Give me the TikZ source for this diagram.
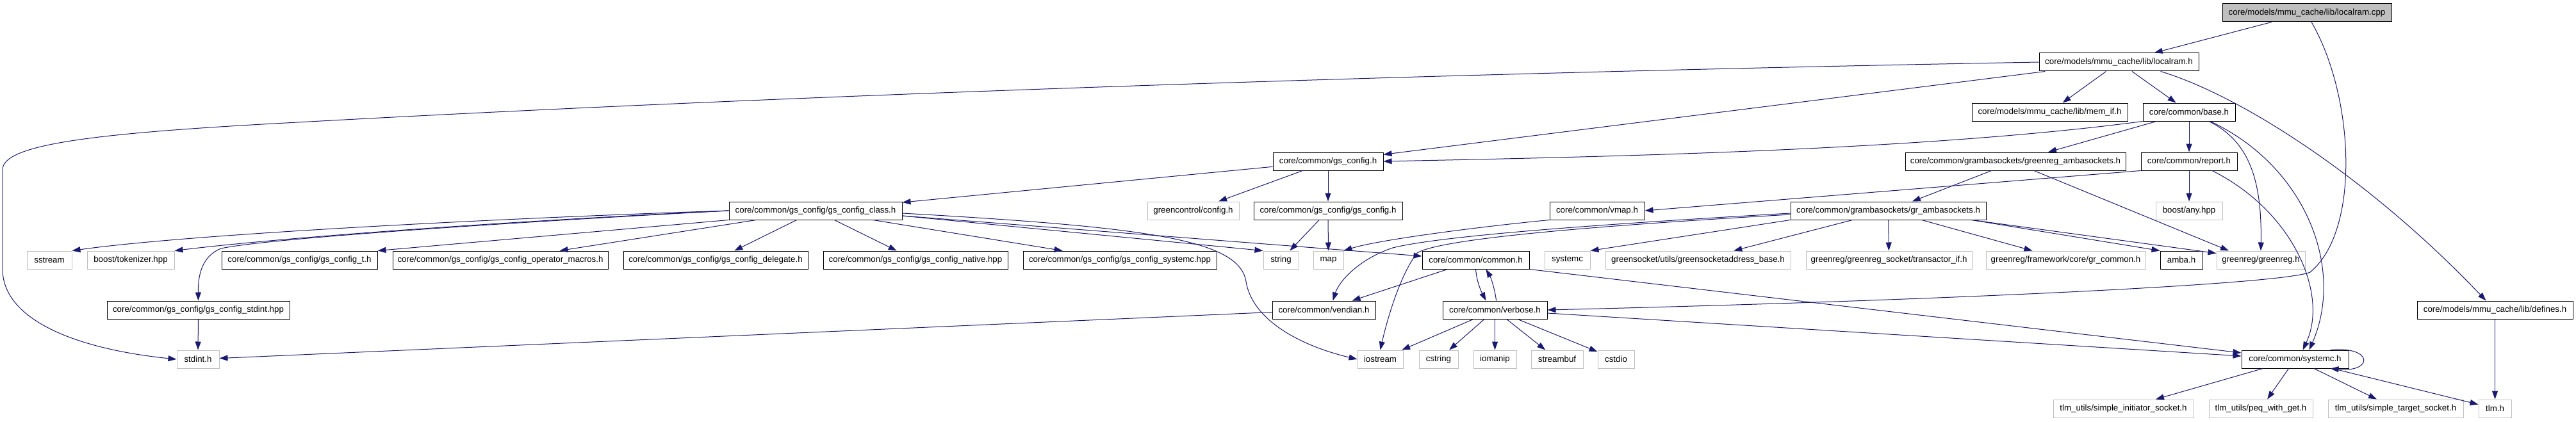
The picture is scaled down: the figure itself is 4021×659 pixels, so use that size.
\documentclass[tikz,border=0pt]{standalone}
\usepackage{fontspec}
\setmainfont{Liberation Sans}
\usetikzlibrary{arrows.meta}
\definecolor{edgeblue}{HTML}{191970}
\definecolor{extgray}{HTML}{BFBFBF}

\begin{document}
\begin{tikzpicture}[
            x=1bp, y=-1bp,
            filebox/.style={
                    draw,
                    rectangle,
                    minimum height=28bp,
                    inner xsep=1bp,
                    inner ysep=0bp,
                    line width=1bp,
                    font=\fontsize{13.3bp}{16bp}\selectfont
                },
            doc/.style={filebox, draw=black},
            ext/.style={filebox, draw=extgray},
            srcfile/.style={filebox, draw=black, fill=extgray},
            dep/.style={
                    -{Triangle[length=13bp,width=9bp]},
                    draw=edgeblue,
                    line width=1bp
                }
        ]

        \useasboundingbox (0,0) rectangle (4021,659);

        % files
        \node[srcfile, minimum width=264bp] (cpp) at (3601,20) {core/models/mmu\_cache/lib/localram.cpp};

        \node[doc, minimum width=249bp] (lram) at (3307.5,97) {core/models/mmu\_cache/lib/localram.h};

        \node[doc, minimum width=243bp] (memif) at (3199.5,175) {core/models/mmu\_cache/lib/mem\_if.h};
        \node[doc, minimum width=144bp] (base) at (3417,175) {core/common/base.h};

        \node[doc, minimum width=172bp] (gsconfig) at (2073,252) {core/common/gs\_config.h};
        \node[doc, minimum width=344bp] (grnregamba) at (3146,252) {core/common/grambasockets/greenreg\_ambasockets.h};
        \node[doc, minimum width=150bp] (report) at (3417,252) {core/common/report.h};

        \node[doc, minimum width=270bp] (gsclass) at (1273,329) {core/common/gs\_config/gs\_config\_class.h};
        \node[ext, minimum width=143bp] (gcconfig) at (1862.5,329) {greencontrol/config.h};
        \node[doc, minimum width=232bp] (gsgs) at (2073,329) {core/common/gs\_config/gs\_config.h};
        \node[doc, minimum width=148bp] (vmap) at (2493,329) {core/common/vmap.h};
        \node[doc, minimum width=305bp] (gramba) at (2947.5,329) {core/common/grambasockets/gr\_ambasockets.h};
        \node[ext, minimum width=104bp] (anyhpp) at (3417,329) {boost/any.hpp};

        \node[ext, minimum width=70bp] (sstream) at (77,406) {sstream};
        \node[ext, minimum width=136bp] (tokenizer) at (204,406) {boost/tokenizer.hpp};
        \node[doc, minimum width=243bp] (gst) at (467.5,406) {core/common/gs\_config/gs\_config\_t.h};
        \node[doc, minimum width=336bp] (opmac) at (781,406) {core/common/gs\_config/gs\_config\_operator\_macros.h};
        \node[doc, minimum width=288bp] (deleg) at (1117,406) {core/common/gs\_config/gs\_config\_delegate.h};
        \node[doc, minimum width=288bp] (native) at (1429,406) {core/common/gs\_config/gs\_config\_native.hpp};
        \node[doc, minimum width=302bp] (schpp) at (1748,406) {core/common/gs\_config/gs\_config\_systemc.hpp};
        \node[ext, minimum width=55bp] (string) at (1999.5,406) {string};
        \node[ext, minimum width=47bp] (map) at (2073.5,406) {map};
        \node[doc, minimum width=167bp] (common) at (2303.5,406) {core/common/common.h};
        \node[ext, minimum width=71bp] (systemc) at (2446.5,406) {systemc};
        \node[ext, minimum width=289bp] (gsaddr) at (2650.5,406) {greensocket/utils/greensocketaddress\_base.h};
        \node[ext, minimum width=259bp] (transif) at (2948.5,406) {greenreg/greenreg\_socket/transactor\_if.h};
        \node[ext, minimum width=249bp] (grcommon) at (3224.5,406) {greenreg/framework/core/gr\_common.h};
        \node[doc, minimum width=66bp] (amba) at (3405,406) {amba.h};
        \node[ext, minimum width=138bp] (greenreg) at (3529,406) {greenreg/greenreg.h};

        \node[doc, minimum width=285bp] (stdinthpp) at (309.5,484) {core/common/gs\_config/gs\_config\_stdint.hpp};
        \node[doc, minimum width=161bp] (vendian) at (2066.5,484) {core/common/vendian.h};
        \node[doc, minimum width=163bp] (verbose) at (2333.5,484) {core/common/verbose.h};
        \node[doc, minimum width=243bp] (defines) at (3894.5,484) {core/models/mmu\_cache/lib/defines.h};

        \node[ext, minimum width=66bp] (stdint) at (309,561) {stdint.h};
        \node[ext, minimum width=71bp] (iostream) at (2154.5,561) {iostream};
        \node[ext, minimum width=61bp] (cstring) at (2245.5,561) {cstring};
        \node[ext, minimum width=67bp] (iomanip) at (2333.5,561) {iomanip};
        \node[ext, minimum width=81bp] (streambuf) at (2430.5,561) {streambuf};
        \node[ext, minimum width=57bp] (cstdio) at (2522.5,561) {cstdio};
        \node[doc, minimum width=167bp] (systemch) at (3582.5,561) {core/common/systemc.h};

        \node[ext, minimum width=219bp] (initsock) at (3314.5,638) {tlm\_utils/simple\_initiator\_socket.h};
        \node[ext, minimum width=162bp] (peq) at (3529,638) {tlm\_utils/peq\_with\_get.h};
        \node[ext, minimum width=211bp] (tgtsock) at (3739.5,638) {tlm\_utils/simple\_target\_socket.h};
        \node[ext, minimum width=51bp] (tlm) at (3894.5,638) {tlm.h};

        % includes
        \draw[dep] (cpp) -- (lram);
        \draw[dep] ([xshift=7bp]cpp.south) .. controls (3675,150) and (3685,360) .. (3606,425)
            .. controls (3560,445) and (3000,470) .. (verbose.east);

        \draw[dep] (lram) -- (memif);
        \draw[dep] (lram) -- (base);
        \draw[dep] (lram) -- (gsconfig);
        \draw[dep] ([xshift=65bp]lram.south) .. controls (3500,150) and (3700,280) .. ([xshift=-14bp]defines.north);
        \draw[dep] (lram.west) .. controls (2200,115) and (1200,150) .. (446,192)
            .. controls (150,208) and (4,225) .. (4,265) -- (4,420)
            .. controls (4,500) and (120,545) .. (stdint.west);

        \draw[dep] (base) -- (report);
        \draw[dep] (base) -- (grnregamba);
        \draw[dep] (base.south west) .. controls (3000,235) and (2500,245) .. (gsconfig.east);
        \draw[dep] ([xshift=31bp]base.south) .. controls (3510,220) and (3531,280) .. (greenreg.north);
        \draw[dep] ([xshift=33bp]base.south) .. controls (3600,260) and (3660,420) .. ([xshift=22bp]systemch.north);

        \draw[dep] (report) -- (anyhpp);
        \draw[dep] (report.south west) -- (vmap.east);
        \draw[dep] ([xshift=36bp]report.south) .. controls (3580,330) and (3635,460) .. ([xshift=12bp]systemch.north);

        \draw[dep] (gsconfig) -- (gsclass);
        \draw[dep] (gsconfig) -- (gcconfig);
        \draw[dep] (gsconfig) -- (gsgs);

        \draw[dep] (gsgs) -- (string);
        \draw[dep] (gsgs) -- (map);

        \draw[dep] (gsclass.west) .. controls (800,340) and (300,365) .. (sstream.north east);
        \draw[dep] (gsclass.west) .. controls (800,345) and (450,370) .. (tokenizer.north east);
        \draw[dep] (gsclass.west) .. controls (800,347) and (420,372) .. (345,388)
            .. controls (315,400) and (309,430) .. (stdinthpp.north);
        \draw[dep] (gsclass.south west) -- (gst.north east);
        \draw[dep] (gsclass) -- (opmac);
        \draw[dep] (gsclass) -- (deleg);
        \draw[dep] (gsclass) -- (native);
        \draw[dep] (gsclass) -- (schpp);
        \draw[dep] ([yshift=-8bp]gsclass.east) -- (string.north west);
        \draw[dep] ([yshift=-8bp]gsclass.east) -- ([yshift=6bp]common.west);
        \draw[dep] ([yshift=-4bp]gsclass.east) .. controls (1800,355) and (1935,375) .. (1945,440)
            .. controls (1955,500) and (2030,540) .. (iostream.west);

        \draw[dep] (vmap.south west) .. controls (2300,355) and (2150,375) .. (map.north east);

        \draw[dep] (grnregamba) -- (gramba);
        \draw[dep] ([xshift=29bp]grnregamba.south) -- ([xshift=-50bp]greenreg.north);

        \draw[dep] ([yshift=-4bp]gramba.west) .. controls (2500,350) and (2250,368) .. (2174,387)
            .. controls (2120,405) and (2090,440) .. ([xshift=14bp]vendian.north);
        \draw[dep] ([yshift=-6bp]gramba.west) .. controls (2500,352) and (2250,372) .. (2212,395)
            .. controls (2185,430) and (2165,500) .. (iostream.north);
        \draw[dep] (gramba.south west) -- (systemc.north east);
        \draw[dep] (gramba) -- (gsaddr);
        \draw[dep] (gramba) -- (transif);
        \draw[dep] (gramba) -- (grcommon);
        \draw[dep] ([xshift=-23bp]gramba.south east) -- (amba.north west);
        \draw[dep] ([xshift=-23bp]gramba.south east) -- ([yshift=-4bp]greenreg.north west);

        \draw[dep] (common) -- (vendian);
        \draw[dep] (common.south) .. controls (2305,440) and (2312,455) .. ([xshift=-14bp]verbose.north);
        \draw[dep] (common.south east) -- ([yshift=10bp]systemch.west);

        \draw[dep] ([xshift=2bp]verbose.north) .. controls (2334,455) and (2328,435) .. ([xshift=16bp]common.south);
        \draw[dep] (verbose) -- (iostream);
        \draw[dep] (verbose) -- (cstring);
        \draw[dep] (verbose) -- (iomanip);
        \draw[dep] (verbose) -- (streambuf);
        \draw[dep] (verbose) -- (cstdio);
        \draw[dep] ([yshift=-5bp]verbose.east) -- ([yshift=5bp]systemch.west);

        \draw[dep] (vendian) -- (stdint);
        \draw[dep] (stdinthpp) -- (stdint);

        \draw[dep] ([xshift=55bp]systemch.north) .. controls (3705,540) and (3705,582) .. ([xshift=55bp]systemch.south);
        \draw[dep] (systemch) -- (initsock);
        \draw[dep] (systemch) -- (peq);
        \draw[dep] (systemch) -- (tgtsock);
        \draw[dep] (systemch) -- (tlm);

        \draw[dep] (defines) -- (tlm);

    \end{tikzpicture}
\end{document}
